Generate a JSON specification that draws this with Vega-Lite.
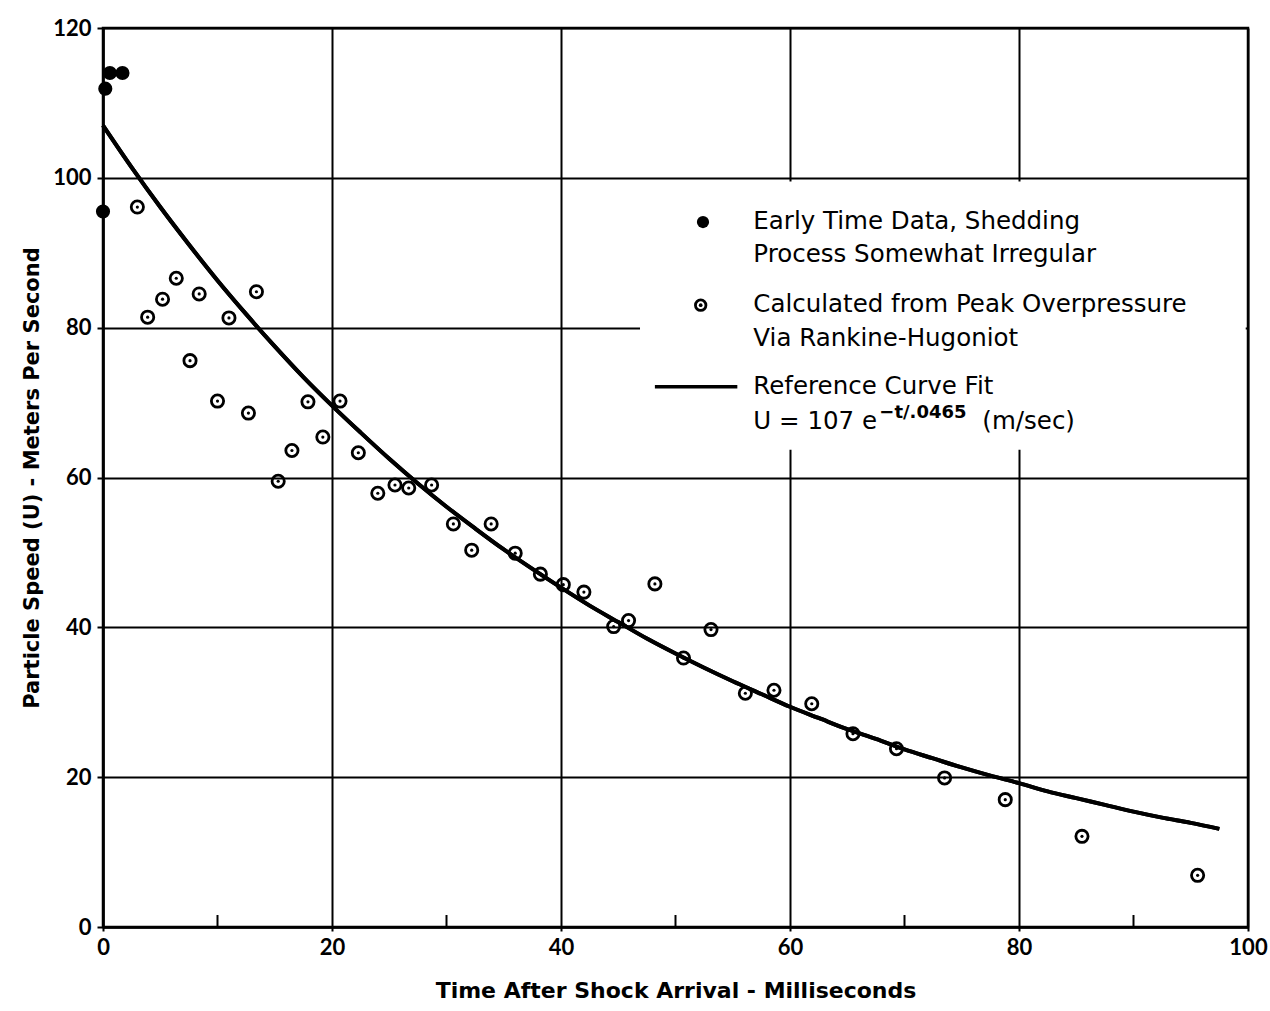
{
  "$schema": "https://vega.github.io/schema/vega-lite/v6.json",
  "width": 1145,
  "height": 899,
  "autosize": {"type": "none"},
  "padding": {"left": 103, "top": 28, "right": 22, "bottom": 84},
  "background": "white",
  "config": {
    "view": {"stroke": "black", "strokeWidth": 2.5},
    "font": "Lato"
  },
  "datasets": {
    "curve": [
      {"t": 0, "u": 107.0}, {"t": 2.5, "u": 101.4}, {"t": 5, "u": 96.1}, {"t": 7.5, "u": 91.1},
      {"t": 10, "u": 86.3}, {"t": 12.5, "u": 81.8}, {"t": 15, "u": 77.5}, {"t": 17.5, "u": 73.4},
      {"t": 20, "u": 69.6}, {"t": 22.5, "u": 66.0}, {"t": 25, "u": 62.5}, {"t": 27.5, "u": 59.2},
      {"t": 30, "u": 56.1}, {"t": 32.5, "u": 53.2}, {"t": 35, "u": 50.4}, {"t": 37.5, "u": 47.8},
      {"t": 40, "u": 45.3}, {"t": 42.5, "u": 42.9}, {"t": 45, "u": 40.7}, {"t": 47.5, "u": 38.5},
      {"t": 50, "u": 36.5}, {"t": 52.5, "u": 34.6}, {"t": 55, "u": 32.8}, {"t": 57.5, "u": 31.1},
      {"t": 60, "u": 29.4}, {"t": 62.5, "u": 27.9}, {"t": 65, "u": 26.4}, {"t": 67.5, "u": 25.1},
      {"t": 70, "u": 23.7}, {"t": 72.5, "u": 22.5}, {"t": 75, "u": 21.3}, {"t": 77.5, "u": 20.2},
      {"t": 80, "u": 19.2}, {"t": 82.5, "u": 18.1}, {"t": 85, "u": 17.2}, {"t": 87.5, "u": 16.3},
      {"t": 90, "u": 15.4}, {"t": 92.5, "u": 14.6}, {"t": 95, "u": 13.9}, {"t": 97.5, "u": 13.1}
    ],
    "early": [
      {"t": 0, "u": 95.5}, {"t": 0.2, "u": 111.9}, {"t": 0.6, "u": 114.0}, {"t": 1.7, "u": 114.0}
    ],
    "calc": [
      {"t": 3.0, "u": 96.1}, {"t": 3.9, "u": 81.4}, {"t": 5.2, "u": 83.8}, {"t": 6.4, "u": 86.6},
      {"t": 7.6, "u": 75.6}, {"t": 8.4, "u": 84.5}, {"t": 10.0, "u": 70.2}, {"t": 11.0, "u": 81.3},
      {"t": 12.7, "u": 68.6}, {"t": 13.4, "u": 84.8}, {"t": 15.3, "u": 59.5}, {"t": 16.5, "u": 63.6},
      {"t": 17.9, "u": 70.1}, {"t": 19.2, "u": 65.4}, {"t": 20.7, "u": 70.2}, {"t": 22.3, "u": 63.3},
      {"t": 24.0, "u": 57.9}, {"t": 25.5, "u": 59.0}, {"t": 26.7, "u": 58.6}, {"t": 28.7, "u": 59.0},
      {"t": 30.6, "u": 53.8}, {"t": 32.2, "u": 50.3}, {"t": 33.9, "u": 53.8}, {"t": 36.0, "u": 49.9},
      {"t": 38.2, "u": 47.1}, {"t": 40.2, "u": 45.7}, {"t": 42.0, "u": 44.7}, {"t": 44.6, "u": 40.1},
      {"t": 45.9, "u": 40.9}, {"t": 48.2, "u": 45.8}, {"t": 50.7, "u": 35.9}, {"t": 53.1, "u": 39.7},
      {"t": 56.1, "u": 31.2}, {"t": 58.6, "u": 31.6}, {"t": 61.9, "u": 29.8}, {"t": 65.5, "u": 25.8},
      {"t": 69.3, "u": 23.8}, {"t": 73.5, "u": 19.9}, {"t": 78.8, "u": 17.0}, {"t": 85.5, "u": 12.1},
      {"t": 95.6, "u": 6.9}
    ],
    "minorTicks": [{"t": 10}, {"t": 30}, {"t": 50}, {"t": 70}, {"t": 90}],
    "legendBox": [{"t1": 46.9, "t2": 99.8, "u1": 63.7, "u2": 99.5}],
    "legendText": [
      {"t": 56.8, "u": 94.1, "label": "Early Time Data, Shedding"},
      {"t": 56.8, "u": 89.7, "label": "Process Somewhat Irregular"},
      {"t": 56.8, "u": 83.0, "label": "Calculated from Peak Overpressure"},
      {"t": 56.8, "u": 78.5, "label": "Via Rankine-Hugoniot"},
      {"t": 56.8, "u": 72.1, "label": "Reference Curve Fit"},
      {"t": 56.8, "u": 67.4, "label": "U = 107 e"},
      {"t": 76.8, "u": 67.4, "label": "(m/sec)"}
    ],
    "legendSup": [
      {"t": 67.8, "u": 68.6, "label": "−t/.0465"}
    ],
    "legendFilled": [{"t": 52.4, "u": 94.1}],
    "legendOpen": [{"t": 52.2, "u": 83.0}],
    "legendLine": [{"t": 48.2, "u": 72.1}, {"t": 55.4, "u": 72.1}]
  },
  "layer": [
    {
      "data": {"name": "curve"},
      "mark": {"type": "line", "color": "black", "strokeWidth": 4, "interpolate": "monotone"},
      "encoding": {
        "x": {
          "field": "t", "type": "quantitative",
          "scale": {"domain": [0, 100], "nice": false},
          "axis": {
            "values": [0, 20, 40, 60, 80, 100],
            "title": "Time After Shock Arrival - Milliseconds",
            "titleFont": "DejaVu Sans",
            "titleFontSize": 22, "titleFontWeight": "bold", "titleColor": "black",
            "titlePadding": 22,
            "labelFontSize": 22, "labelFontWeight": "bold", "labelColor": "black",
            "labelPadding": 6, "labelFlush": false,
            "grid": true, "gridColor": "black", "gridWidth": 2, "gridOpacity": 1,
            "domainColor": "black", "domainWidth": 2.5,
            "tickColor": "black", "tickSize": 4, "tickWidth": 2
          }
        },
        "y": {
          "field": "u", "type": "quantitative",
          "scale": {"domain": [0, 120], "nice": false},
          "axis": {
            "values": [0, 20, 40, 60, 80, 100, 120],
            "title": "Particle Speed (U) - Meters Per Second",
            "titleFont": "DejaVu Sans",
            "titleFontSize": 21, "titleFontWeight": "bold", "titleColor": "black",
            "titlePadding": 10,
            "labelFontSize": 22, "labelFontWeight": "bold", "labelColor": "black",
            "labelPadding": 6, "labelFlush": false,
            "grid": true, "gridColor": "black", "gridWidth": 2, "gridOpacity": 1,
            "domainColor": "black", "domainWidth": 2.5,
            "tickColor": "black", "tickSize": 6, "tickWidth": 2
          }
        }
      }
    },
    {
      "data": {"name": "legendBox"},
      "mark": {"type": "rect", "fill": "white", "stroke": null},
      "encoding": {
        "x": {"field": "t1", "type": "quantitative"},
        "x2": {"field": "t2"},
        "y": {"field": "u1", "type": "quantitative"},
        "y2": {"field": "u2"}
      }
    },
    {
      "data": {"name": "curve"},
      "mark": {"type": "line", "color": "black", "strokeWidth": 4, "interpolate": "monotone"},
      "encoding": {
        "x": {"field": "t", "type": "quantitative"},
        "y": {"field": "u", "type": "quantitative"}
      }
    },
    {
      "data": {"name": "minorTicks"},
      "mark": {"type": "rule", "color": "black", "strokeWidth": 2},
      "encoding": {
        "x": {"field": "t", "type": "quantitative"},
        "y": {"datum": 0, "type": "quantitative"},
        "y2": {"datum": 1.6}
      }
    },
    {
      "data": {"name": "early"},
      "mark": {"type": "point", "shape": "circle", "filled": true, "color": "black", "opacity": 1, "size": 200},
      "encoding": {
        "x": {"field": "t", "type": "quantitative"},
        "y": {"field": "u", "type": "quantitative"}
      }
    },
    {
      "data": {"name": "calc"},
      "mark": {"type": "point", "shape": "circle", "filled": false, "color": "black", "opacity": 1, "strokeWidth": 2.8, "size": 150},
      "encoding": {
        "x": {"field": "t", "type": "quantitative"},
        "y": {"field": "u", "type": "quantitative"}
      }
    },
    {
      "data": {"name": "calc"},
      "mark": {"type": "point", "shape": "circle", "filled": true, "color": "black", "opacity": 1, "size": 10},
      "encoding": {
        "x": {"field": "t", "type": "quantitative"},
        "y": {"field": "u", "type": "quantitative"}
      }
    },
    {
      "data": {"name": "legendText"},
      "mark": {"type": "text", "align": "left", "baseline": "middle", "fontSize": 24.5, "color": "black", "font": "DejaVu Sans"},
      "encoding": {
        "x": {"field": "t", "type": "quantitative"},
        "y": {"field": "u", "type": "quantitative"},
        "text": {"field": "label"}
      }
    },
    {
      "data": {"name": "legendSup"},
      "mark": {"type": "text", "align": "left", "baseline": "middle", "fontSize": 18, "color": "black", "font": "DejaVu Sans", "fontWeight": "bold"},
      "encoding": {
        "x": {"field": "t", "type": "quantitative"},
        "y": {"field": "u", "type": "quantitative"},
        "text": {"field": "label"}
      }
    },
    {
      "data": {"name": "legendFilled"},
      "mark": {"type": "point", "shape": "circle", "filled": true, "color": "black", "opacity": 1, "size": 150},
      "encoding": {
        "x": {"field": "t", "type": "quantitative"},
        "y": {"field": "u", "type": "quantitative"}
      }
    },
    {
      "data": {"name": "legendOpen"},
      "mark": {"type": "point", "shape": "circle", "filled": false, "color": "black", "opacity": 1, "strokeWidth": 2.8, "size": 110},
      "encoding": {
        "x": {"field": "t", "type": "quantitative"},
        "y": {"field": "u", "type": "quantitative"}
      }
    },
    {
      "data": {"name": "legendOpen"},
      "mark": {"type": "point", "shape": "circle", "filled": true, "color": "black", "opacity": 1, "size": 14},
      "encoding": {
        "x": {"field": "t", "type": "quantitative"},
        "y": {"field": "u", "type": "quantitative"}
      }
    },
    {
      "data": {"name": "legendLine"},
      "mark": {"type": "line", "color": "black", "strokeWidth": 3.5},
      "encoding": {
        "x": {"field": "t", "type": "quantitative"},
        "y": {"field": "u", "type": "quantitative"}
      }
    }
  ]
}
